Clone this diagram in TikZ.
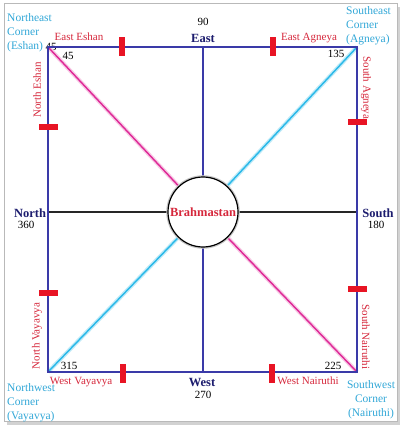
\documentclass[tikz,border=0pt]{standalone}
\usepackage{fontspec}
\setmainfont{Liberation Serif}
\definecolor{sqblue}{RGB}{58,58,168}
\definecolor{navy}{RGB}{28,28,110}
\definecolor{lblred}{RGB}{214,40,60}
\definecolor{lblcyan}{RGB}{50,168,216}
\definecolor{diagcyan}{RGB}{40,184,232}
\definecolor{diagmag}{RGB}{222,40,150}
\definecolor{tickred}{RGB}{232,20,36}
\tikzset{
  sqline/.style={draw=sqblue,line width=2.2pt},
  midblue/.style={draw=sqblue,line width=2pt},
  midblack/.style={draw=black!85,line width=2pt},
  diagc/.style={draw=diagcyan,line width=1.4pt,preaction={draw=diagcyan!30,line width=4pt}},
  diagm/.style={draw=diagmag,line width=1.4pt,preaction={draw=diagmag!25,line width=4pt}},
  tickv/.style={fill=tickred,minimum width=5.5pt,minimum height=19pt,inner sep=0pt},
  tickh/.style={fill=tickred,minimum width=19pt,minimum height=5.5pt,inner sep=0pt},
  redlbl/.style={text=lblred,font=\fontsize{11}{13}\selectfont,inner sep=0pt},
  cornerlbl/.style={text=lblcyan,font=\fontsize{11.5}{14}\selectfont,inner sep=0pt},
  numlbl/.style={text=black,font=\fontsize{11}{13}\selectfont,inner sep=0pt},
  dirlbl/.style={text=navy,font=\fontsize{12.5}{14}\selectfont\bfseries,inner sep=0pt},
}
\begin{document}
\begin{tikzpicture}[x=1pt,y=-1pt]
\useasboundingbox (0,0) rectangle (403,430);
% frame with shadow
\fill[gray!35] (7,7) rectangle (400,425);
\fill[white,draw=gray!55,line width=1pt] (4,4) rectangle (397,421);

\coordinate (tl) at (48,47);
\coordinate (tr) at (357,47);
\coordinate (bl) at (48,372);
\coordinate (br) at (357,372);
\coordinate (tm) at (203,47);
\coordinate (bm) at (203,372);
\coordinate (lm) at (48,212);
\coordinate (rm) at (357,212);

\node[numlbl] (n45c) at (51,47) {45};

\node[circle,minimum size=70pt,inner sep=0pt] (B) at (203,212) {};

% diagonals
\draw[diagm] (tl) -- (B);
\draw[diagm] (br) -- (B);
\draw[diagc] (tr) -- (B);
\draw[diagc] (bl) -- (B);
% mid lines
\draw[midblue] (tm) -- (B);
\draw[midblue] (bm) -- (B);
\draw[midblack] (lm) -- (B);
\draw[midblack] (rm) -- (B);
% square
\draw[sqline] (tl) rectangle (br);
% circle
\node[circle,minimum size=70pt,inner sep=0pt,draw=black,line width=1.2pt,fill=white,
  preaction={draw=gray!45,line width=3.5pt},text=lblred,font=\fontsize{12.5}{14}\selectfont\bfseries] (Bc) at (203,212) {Brahmastan};

% ticks
\node[tickv] (t1) at (122,47) {};
\node[tickv] (t2) at (273,47) {};
\node[tickv] (t3) at (123,373) {};
\node[tickv] (t4) at (272,373) {};
\node[tickh] (t5) at (48,127) {};
\node[tickh] (t6) at (48,293) {};
\node[tickh] (t7) at (357,122) {};
\node[tickh] (t8) at (357,289) {};

% corner labels
\node[cornerlbl,align=left,anchor=west] (ne) at (7,33) {Northeast\\Corner\\(Eshan)};
\node[cornerlbl,align=left,anchor=west] (se) at (346,26) {Southeast\\Corner\\(Agneya)};
\node[cornerlbl,align=left,anchor=west] (nw) at (7,403) {Northwest\\Corner\\(Vayavya)};
\node[cornerlbl,align=center] (sw) at (371,400) {Southwest\\Corner\\(Nairuthi)};

% red labels
\node[redlbl] (ee) at (79,37) {East Eshan};
\node[redlbl] (ea) at (309,38) {East Agneya};
\node[redlbl] (wv) at (81,382) {West Vayavya};
\node[redlbl] (wn) at (308,381) {West Nairuthi};
\node[redlbl,rotate=90] (ne2) at (37,90) {North Eshan};
\node[redlbl,rotate=-90] (sa) at (366,88) {South Agneya};
\node[redlbl,rotate=90] (nv) at (37,336) {North Vayavya};
\node[redlbl,rotate=-90] (sn) at (366,337) {South Nairuthi};

% numbers
\node[numlbl] (n45) at (68,56) {45};
\node[numlbl] (n135) at (336,54) {135};
\node[numlbl] (n315) at (69,366) {315};
\node[numlbl] (n225) at (333,366) {225};
\node[numlbl] (n90) at (203,22) {90};
\node[numlbl] (n270) at (203,395) {270};
\node[numlbl] (n360) at (26,225) {360};
\node[numlbl] (n180) at (376,225) {180};

% directions
\node[dirlbl] (east) at (203,38) {East};
\node[dirlbl] (west) at (202,382) {West};
\node[dirlbl] (north) at (30,213) {North};
\node[dirlbl] (south) at (378,213) {South};
\end{tikzpicture}
\end{document}
